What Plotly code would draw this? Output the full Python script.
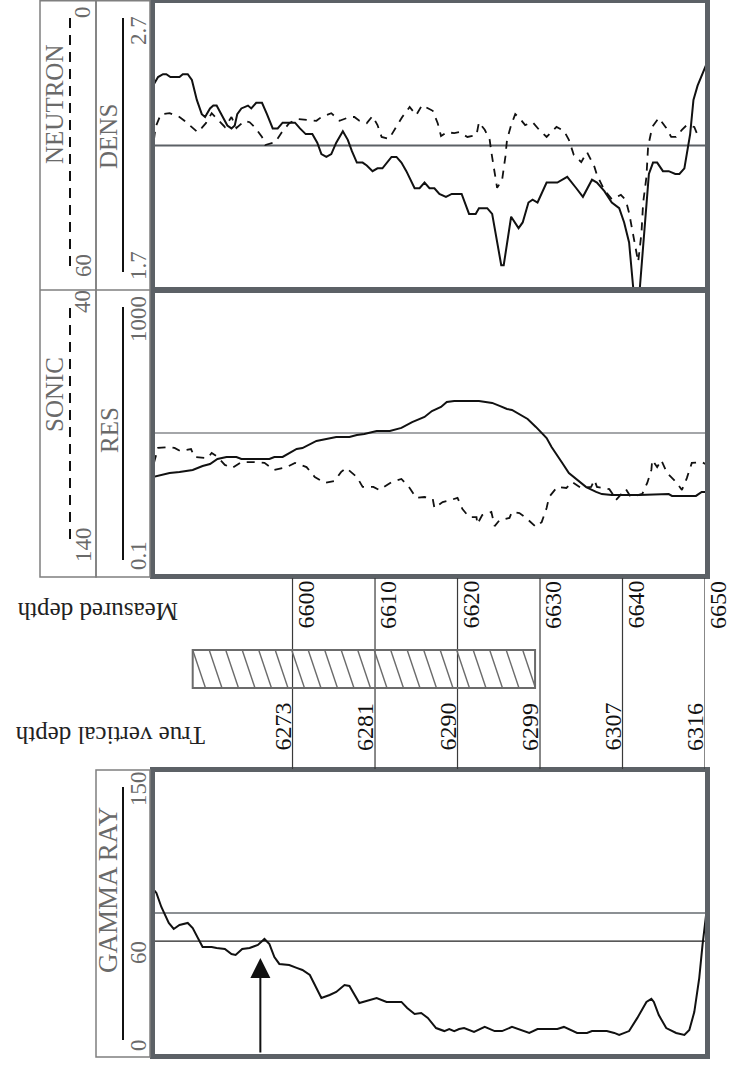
import math
import plotly.graph_objects as go

W, H = 736, 1069

# ---------------- data ----------------
DEPTH_RANGE = [6583.33, 6650.0]
MD_TICKS = [6600, 6610, 6620, 6630, 6640, 6650]
TVD_LABELS = ["6273", "6281", "6290", "6299", "6307", "6316"]
HATCH_INTERVAL = [6587.9, 6629.4]

DENS_RANGE = [1.7, 2.7]
NEUT_RANGE = [60, 0]
RES_RANGE = [0.1, 1000]
SONIC_RANGE = [140, 40]
GR_RANGE = [0, 150]
DENS_CUTOFF = 2.2
RES_CUTOFF = 10
GR_CUTOFFS = [60, 75]
ARROW_MD, ARROW_GR = 6596.1, 51

dens_depth = [6583.1, 6583.7, 6584.3, 6584.7, 6585.2, 6586.3, 6586.7, 6587.3, 6587.8, 6588.4,
              6589.0, 6589.4, 6590.0, 6590.4, 6590.8, 6591.4, 6592.1, 6592.6, 6593.0, 6593.3,
              6593.8, 6594.6, 6595.0, 6595.6, 6596.3, 6596.9, 6597.6, 6598.2, 6598.8, 6599.4,
              6600.3, 6600.9, 6601.6, 6602.4, 6603.0, 6603.5, 6604.1, 6604.7, 6605.3, 6606.1,
              6606.7, 6607.2, 6607.8, 6608.5, 6609.0, 6609.7, 6610.3, 6610.9, 6611.4, 6612.0,
              6612.6, 6613.2, 6613.8, 6614.8, 6615.4, 6616.0, 6616.6, 6617.2, 6617.8, 6618.6,
              6619.3, 6620.5, 6621.4, 6622.2, 6622.6, 6623.6, 6624.2, 6625.3, 6625.6, 6626.5,
              6627.4, 6627.9, 6628.6, 6629.1, 6629.7, 6630.8, 6632.1, 6633.3, 6634.4, 6635.2,
              6636.3, 6636.9, 6637.8, 6638.7, 6639.6, 6640.2, 6640.8, 6641.3, 6642.1, 6642.6,
              6643.2, 6643.7, 6644.2, 6644.9, 6645.6, 6646.4, 6646.9, 6647.5, 6647.8, 6648.2,
              6648.6, 6649.1, 6650.1]
dens_val = [2.41, 2.44, 2.45, 2.45, 2.44, 2.44, 2.45, 2.45, 2.43, 2.36,
            2.31, 2.30, 2.33, 2.34, 2.34, 2.31, 2.27, 2.26, 2.27, 2.31,
            2.33, 2.34, 2.33, 2.35, 2.35, 2.31, 2.26, 2.26, 2.28, 2.28,
            2.28, 2.26, 2.24, 2.24, 2.21, 2.17, 2.16, 2.17, 2.21, 2.25,
            2.22, 2.18, 2.14, 2.14, 2.13, 2.11, 2.12, 2.12, 2.14, 2.16,
            2.16, 2.14, 2.11, 2.05, 2.05, 2.07, 2.05, 2.05, 2.03, 2.02,
            2.03, 2.03, 1.96, 1.96, 1.98, 1.98, 1.96, 1.78, 1.78, 1.95,
            1.91, 1.93, 2.00, 2.01, 2.00, 2.07, 2.07, 2.09, 2.05, 2.02,
            2.08, 2.07, 2.04, 2.00, 1.98, 1.93, 1.86, 1.70, 1.70, 1.89,
            2.10, 2.14, 2.14, 2.11, 2.11, 2.10, 2.10, 2.12, 2.17, 2.24,
            2.36, 2.41, 2.48]

neut_depth = [6583.2, 6583.4, 6583.9, 6584.1, 6585.1, 6586.3, 6586.9, 6587.5, 6588.5, 6589.0,
              6589.5, 6590.2, 6591.2, 6591.8, 6592.6, 6593.2, 6594.2, 6594.8, 6595.4, 6596.3,
              6596.7, 6597.9, 6598.7, 6599.6, 6600.6, 6602.3, 6602.9, 6603.5, 6604.7, 6605.7,
              6606.9, 6607.5, 6608.1, 6609.0, 6609.7, 6610.3, 6610.8, 6611.7, 6612.6, 6613.3,
              6614.2, 6615.0, 6615.7, 6617.0, 6617.6, 6618.0, 6618.7, 6619.6, 6620.2, 6621.2,
              6622.3, 6622.6, 6623.3, 6623.9, 6624.1, 6624.5, 6624.8, 6625.4, 6625.8, 6626.0,
              6626.5, 6627.0, 6627.5, 6628.2, 6629.1, 6629.9, 6630.8, 6632.0, 6632.9, 6633.5,
              6634.1, 6635.0, 6635.7, 6636.6, 6636.9, 6637.8, 6638.7, 6639.8, 6640.4, 6640.8,
              6641.2, 6641.7, 6641.9, 6642.3, 6642.5, 6642.9, 6643.1, 6643.6, 6644.4, 6645.3,
              6645.9, 6646.5, 6647.2, 6647.8, 6648.7, 6649.2]
neut_val = [28.8, 26.1, 24.0, 23.4, 23.2, 24.0, 24.8, 25.7, 27.2, 26.3,
            25.3, 23.2, 25.1, 26.1, 24.0, 26.3, 24.8, 25.1, 26.1, 28.2,
            29.9, 29.3, 27.2, 25.3, 24.4, 24.8, 24.8, 24.0, 23.2, 24.8,
            24.0, 24.0, 24.8, 25.3, 23.8, 25.7, 28.2, 28.6, 26.1, 24.0,
            21.9, 23.6, 21.5, 22.7, 25.3, 28.0, 27.2, 27.4, 27.2, 28.2,
            27.8, 25.1, 26.7, 28.8, 31.4, 35.8, 38.9, 37.3, 32.4, 28.8,
            25.7, 23.4, 24.2, 25.7, 25.1, 26.7, 28.2, 26.1, 26.9, 28.8,
            32.0, 33.5, 31.4, 34.5, 36.2, 39.4, 41.3, 40.4, 41.5, 44.2,
            47.8, 52.0, 54.5, 48.4, 42.1, 36.6, 30.3, 26.1, 24.2, 26.3,
            28.2, 28.2, 26.7, 25.7, 26.1, 28.2]

res_depth = [6583.1, 6584.3, 6585.1, 6586.3, 6587.2, 6587.9, 6589.1, 6590.0, 6590.9, 6592.0,
             6593.2, 6593.8, 6594.8, 6597.2, 6597.8, 6598.8, 6600.5, 6601.2, 6602.9, 6604.1,
             6605.3, 6606.9, 6607.8, 6608.7, 6610.2, 6611.8, 6612.6, 6613.2, 6614.5, 6616.0,
             6616.9, 6618.0, 6618.7, 6619.6, 6622.6, 6623.3, 6624.2, 6625.1, 6626.0, 6626.6,
             6627.5, 6628.5, 6629.5, 6630.2, 6630.8, 6631.4, 6632.0, 6632.7, 6633.5, 6634.4,
             6635.6, 6636.8, 6637.5, 6638.7, 6642.0, 6645.6, 6646.0, 6648.9, 6649.6, 6650.2]
res_val = [2.38, 2.54, 2.71, 2.80, 2.89, 2.99, 3.40, 3.63, 4.28, 4.57,
           4.57, 4.28, 4.28, 4.28, 4.57, 4.57, 5.93, 6.12, 7.71, 8.22,
           8.78, 8.78, 9.37, 9.68, 10.7, 10.7, 11.4, 11.8, 14.3, 16.9,
           20.5, 23.4, 27.5, 28.4, 28.4, 27.5, 26.7, 24.2, 21.9, 21.2,
           18.6, 15.8, 12.2, 10.0, 8.49, 6.33, 4.88, 3.75, 2.71, 2.23,
           1.71, 1.46, 1.36, 1.32, 1.32, 1.36, 1.28, 1.28, 1.46, 1.46]

sonic_depth = [6583.2, 6583.7, 6584.9, 6585.7, 6586.4, 6587.7, 6588.1, 6589.7, 6590.2, 6590.8,
               6591.8, 6592.7, 6593.8, 6595.2, 6596.6, 6597.8, 6599.3, 6600.3, 6601.7, 6602.7,
               6603.9, 6605.1, 6605.9, 6606.5, 6607.8, 6608.5, 6609.8, 6610.5, 6612.0, 6613.2,
               6614.2, 6615.0, 6616.0, 6617.0, 6617.2, 6618.2, 6618.8, 6620.0, 6620.6, 6621.4,
               6622.3, 6622.4, 6623.0, 6624.1, 6624.5, 6625.1, 6626.3, 6626.6, 6627.5, 6628.3,
               6629.5, 6630.2, 6630.8, 6631.1, 6632.1, 6633.2, 6633.9, 6635.0, 6636.2, 6636.6,
               6636.9, 6638.4, 6638.8, 6639.2, 6640.4, 6641.0, 6642.4, 6643.0, 6643.5, 6643.6,
               6644.2, 6644.7, 6645.4, 6646.5, 6647.2, 6647.8, 6648.4, 6649.6, 6650.3]
sonic_val = [100.6, 95.3, 95.0, 95.3, 96.4, 95.7, 98.5, 98.9, 97.1, 98.2,
             101.3, 102.4, 100.3, 100.3, 100.6, 103.1, 102.1, 100.6, 102.1, 105.6,
             107.7, 107.0, 103.8, 102.4, 105.6, 109.1, 109.1, 110.2, 107.4, 106.3,
             109.5, 113.0, 112.7, 113.4, 116.6, 114.5, 114.1, 113.0, 117.0, 119.8,
             119.8, 122.3, 119.1, 118.0, 123.0, 120.9, 120.1, 118.0, 118.4, 120.1,
             123.3, 121.6, 116.6, 112.7, 109.1, 109.5, 107.4, 109.5, 109.1, 106.7,
             109.1, 109.9, 111.6, 113.8, 109.9, 112.7, 111.6, 107.7, 103.1, 99.6,
             102.1, 99.6, 104.2, 107.4, 110.2, 106.0, 100.6, 100.3, 101.3]

gr_depth = [6583.1, 6583.5, 6584.1, 6584.6, 6585.0, 6585.6, 6586.3, 6587.3, 6587.9, 6589.1,
            6590.2, 6590.8, 6591.8, 6592.6, 6593.1, 6593.9, 6594.8, 6595.8, 6596.6, 6597.2,
            6597.8, 6598.4, 6599.6, 6600.5, 6601.2, 6602.1, 6603.5, 6604.5, 6605.3, 6606.3,
            6606.9, 6608.1, 6609.3, 6610.2, 6611.4, 6612.6, 6613.2, 6613.9, 6614.8, 6615.6,
            6616.4, 6617.4, 6618.4, 6619.0, 6619.6, 6620.2, 6620.8, 6622.0, 6623.3, 6624.5,
            6625.4, 6626.6, 6628.7, 6629.7, 6632.1, 6632.9, 6634.5, 6635.7, 6636.3, 6638.1,
            6639.0, 6639.6, 6640.8, 6641.8, 6642.9, 6643.5, 6643.8, 6644.4, 6645.3, 6646.5,
            6647.5, 6648.1, 6648.7, 6649.3, 6649.7, 6650.3]
gr_val = [87.8, 85.7, 78.2, 73.9, 69.7, 66.5, 68.6, 69.7, 67.0, 56.9,
          56.9, 56.4, 55.9, 53.2, 52.7, 55.9, 56.4, 58.0, 61.2, 58.5,
          51.6, 47.9, 47.3, 45.8, 44.7, 42.0, 29.8, 31.4, 33.0, 36.7,
          36.2, 27.1, 28.7, 29.8, 27.7, 27.7, 27.7, 24.5, 21.3, 21.8,
          19.2, 13.8, 12.2, 13.3, 12.2, 13.3, 13.8, 11.7, 14.4, 12.2,
          12.2, 14.4, 11.2, 13.3, 13.3, 14.4, 11.2, 11.2, 12.2, 12.2,
          11.2, 10.1, 12.2, 19.2, 27.7, 29.3, 27.7, 20.7, 13.8, 11.2,
          10.1, 12.8, 22.3, 40.4, 58.0, 80.3]

# ---------------- styling / layout helpers ----------------
SERIF = "Liberation Serif, Times New Roman, serif"
INK = "#111111"
FRAME = "#5c6166"
BOX = "#7f7f7f"
HEAD = "#6a6a6a"
DASH = "8px,7px"


def px(x):
    return x / W


def py(y):
    return 1 - y / H


X_DOM = [px(155), px(705)]
TOP_DOM = [py(288), py(3)]
MID_DOM = [py(574), py(292)]
GR_DOM = [py(1054), py(772)]

fig = go.Figure()

solid = dict(color=INK, width=2)
dashed = dict(color=INK, width=1.8, dash=DASH)

# reference (cut-off) lines
fig.add_trace(go.Scatter(x=DEPTH_RANGE, y=[DENS_CUTOFF] * 2, mode="lines",
                         line=dict(color=FRAME, width=2), xaxis="x", yaxis="y", hoverinfo="skip"))
fig.add_trace(go.Scatter(x=DEPTH_RANGE, y=[RES_CUTOFF] * 2, mode="lines",
                         line=dict(color="#4a4f55", width=1.1), xaxis="x2", yaxis="y3", hoverinfo="skip"))
fig.add_trace(go.Scatter(x=DEPTH_RANGE, y=[GR_CUTOFFS[0]] * 2, mode="lines",
                         line=dict(color="#222222", width=1.2), xaxis="x3", yaxis="y5", hoverinfo="skip"))
fig.add_trace(go.Scatter(x=DEPTH_RANGE, y=[GR_CUTOFFS[1]] * 2, mode="lines",
                         line=dict(color="#666b70", width=1.5), xaxis="x3", yaxis="y5", hoverinfo="skip"))

# curves
fig.add_trace(go.Scatter(x=dens_depth, y=dens_val, mode="lines", line=solid, xaxis="x", yaxis="y", name="DENS"))
fig.add_trace(go.Scatter(x=neut_depth, y=neut_val, mode="lines", line=dashed, xaxis="x", yaxis="y2", name="NEUTRON"))
fig.add_trace(go.Scatter(x=res_depth, y=res_val, mode="lines", line=solid, xaxis="x2", yaxis="y3", name="RES"))
fig.add_trace(go.Scatter(x=sonic_depth, y=sonic_val, mode="lines", line=dashed, xaxis="x2", yaxis="y4", name="SONIC"))
fig.add_trace(go.Scatter(x=gr_depth, y=gr_val, mode="lines", line=solid, xaxis="x3", yaxis="y5", name="GAMMA RAY"))

hidden = dict(visible=False, showgrid=False, zeroline=False, fixedrange=True)

shapes = []
# thick panel frames
for dom in (TOP_DOM, MID_DOM, GR_DOM):
    shapes.append(dict(type="rect", xref="paper", yref="paper",
                       x0=X_DOM[0] - 2.5 / W, x1=X_DOM[1] + 2.5 / W,
                       y0=dom[0] - 2.5 / H, y1=dom[1] + 2.5 / H,
                       line=dict(color=FRAME, width=5), layer="above"))


# header boxes
def box(x0, y0, x1, y1):
    return dict(type="rect", xref="paper", yref="paper", x0=px(x0), x1=px(x1), y0=py(y1), y1=py(y0),
                line=dict(color=BOX, width=1.5))


def hline(x0, x1, y, color=BOX, width=1.5):
    return dict(type="line", xref="paper", yref="paper", x0=px(x0), x1=px(x1), y0=py(y), y1=py(y),
                line=dict(color=color, width=width))


def vline(x, y0, y1, color=INK, width=2, dash=None):
    ln = dict(color=color, width=width)
    if dash:
        ln["dash"] = dash
    return dict(type="line", xref="paper", yref="paper", x0=px(x), x1=px(x), y0=py(y0), y1=py(y1), line=ln)


shapes += [box(40, 0.8, 96, 577), box(96, 0.8, 150, 577), hline(40, 150, 290), box(96, 770, 150, 1057)]
shapes += [vline(70, 18, 270, dash="10px,7px"), vline(70, 308, 540, dash="10px,7px"),
           vline(123, 18, 272), vline(123, 307, 560), vline(123, 787, 1040)]

# depth grid lines between panels
for t in MD_TICKS:
    shapes.append(dict(type="line", xref="x", yref="paper", x0=t, x1=t, y0=py(769), y1=py(578),
                       line=dict(color="#3a3a3a", width=1.2)))

# hatched interval box
HB_TOP, HB_BOT = 650, 688
HATCH_STEP, HATCH_SLANT = 2.0, 1.55
HCOL = "#6b6b6b"
shapes.append(dict(type="rect", xref="x", yref="paper", x0=HATCH_INTERVAL[0], x1=HATCH_INTERVAL[1],
                   y0=py(HB_BOT), y1=py(HB_TOP), line=dict(color=HCOL, width=2)))
t = HATCH_INTERVAL[0]
while t < HATCH_INTERVAL[1] - 0.05:
    xb = t + HATCH_SLANT
    yb = HB_BOT
    if xb > HATCH_INTERVAL[1]:
        frac = (HATCH_INTERVAL[1] - t) / HATCH_SLANT
        xb = HATCH_INTERVAL[1]
        yb = HB_TOP + frac * (HB_BOT - HB_TOP)
    shapes.append(dict(type="line", xref="x", yref="paper", x0=t, x1=xb, y0=py(HB_TOP), y1=py(yb),
                       line=dict(color=HCOL, width=1.4)))
    t += HATCH_STEP

annotations = []


def txt(text, x, y, size, color=HEAD, angle=-90):
    annotations.append(dict(text=text, x=px(x), y=py(y), xref="paper", yref="paper", showarrow=False,
                            textangle=angle, xanchor="center", yanchor="middle",
                            font=dict(family=SERIF, size=size, color=color)))


# header labels
txt("NEUTRON", 55, 105, 25)
txt("SONIC", 55, 395, 25)
txt("DENS", 108, 137, 25)
txt("RES", 109, 430, 25)
txt("GAMMA RAY", 108, 890, 27)
# header scale numbers
txt("0", 83, 12, 23)
txt("60", 83, 266, 23)
txt("40", 83, 302, 23)
txt("140", 83, 545, 23)
txt("2.7", 138, 31, 23)
txt("1.7", 138, 266, 23)
txt("1000", 138, 319, 23)
txt("0.1", 138, 556, 23)
txt("150", 138, 789, 23)
txt("60", 138, 953, 23)
txt("0", 138, 1045, 23)

# depth axis titles (upside down)
txt("Measured depth", 98, 612, 25, color="#222222", angle=180)
txt("True vertical depth", 110, 736, 25, color="#222222", angle=180)

# depth labels
for t, tvd in zip(MD_TICKS, TVD_LABELS):
    annotations.append(dict(text=str(t), x=t, xref="x", y=py(605), yref="paper", xshift=13,
                            showarrow=False, textangle=-90, xanchor="center", yanchor="middle",
                            font=dict(family=SERIF, size=24, color=INK)))
    annotations.append(dict(text=tvd, x=t, xref="x", y=py(727), yref="paper", xshift=-10,
                            showarrow=False, textangle=-90, xanchor="center", yanchor="middle",
                            font=dict(family=SERIF, size=24, color=INK)))

# arrow in gamma-ray panel
annotations.append(dict(text="", x=ARROW_MD, y=ARROW_GR, xref="x3", yref="y5",
                        ax=ARROW_MD, ay=GR_RANGE[0], axref="x3", ayref="y5",
                        showarrow=True, arrowhead=2, arrowsize=2, arrowwidth=2, arrowcolor=INK,
                        standoff=0))

fig.update_layout(
    width=W, height=H, margin=dict(l=0, r=0, t=0, b=0),
    paper_bgcolor="white", plot_bgcolor="white", showlegend=False,
    xaxis=dict(domain=X_DOM, range=DEPTH_RANGE, anchor="y", **hidden),
    xaxis2=dict(domain=X_DOM, range=DEPTH_RANGE, anchor="y3", **hidden),
    xaxis3=dict(domain=X_DOM, range=DEPTH_RANGE, anchor="y5", **hidden),
    yaxis=dict(domain=TOP_DOM, range=DENS_RANGE, anchor="x", **hidden),
    yaxis2=dict(range=NEUT_RANGE, overlaying="y", anchor="x", **hidden),
    yaxis3=dict(domain=MID_DOM, type="log", range=[math.log10(RES_RANGE[0]), math.log10(RES_RANGE[1])],
                anchor="x2", **hidden),
    yaxis4=dict(range=SONIC_RANGE, overlaying="y3", anchor="x2", **hidden),
    yaxis5=dict(domain=GR_DOM, range=GR_RANGE, anchor="x3", **hidden),
    shapes=shapes,
    annotations=annotations,
)

fig.write_html("out.html")
